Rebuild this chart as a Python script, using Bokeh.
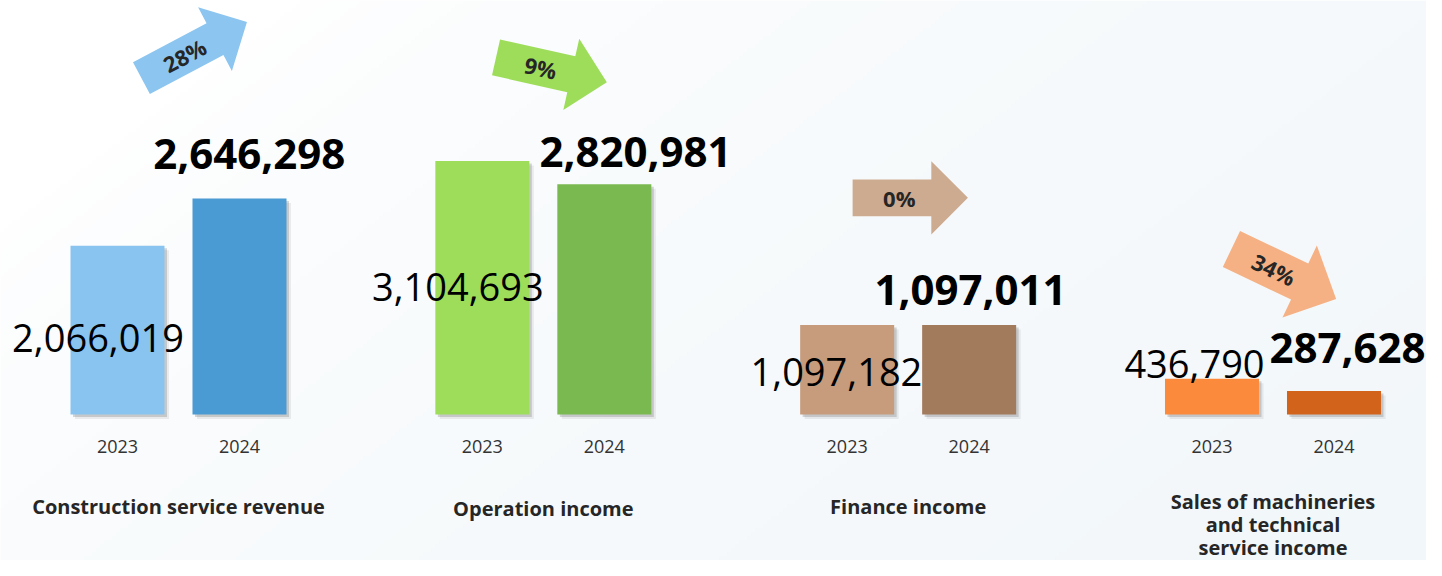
import numpy as np
from bokeh.plotting import figure
from bokeh.models import Range1d, ColumnDataSource
from bokeh.core.properties import value
from bokeh.embed import file_html
from bokeh.resources import INLINE

# ---------------- data ----------------
categories = ["Construction service revenue", "Operation income", "Finance income",
              "Sales of machineries\nand technical\nservice income"]
years = ["2023", "2024"]
values_2023 = [2066019, 3104693, 1097182, 436790]
values_2024 = [2646298, 2820981, 1097011, 287628]
change_labels = ["28%", "9%", "0%", "34%"]

# ---------------- style ----------------
colors_2023 = ["#89c4f0", "#9edd5a", "#c69c7c", "#fb8a3c"]
colors_2024 = ["#4a9ad4", "#7ab850", "#a27a5c", "#d2631b"]
arrow_colors = ["#8bc5f0", "#9edd5a", "#cdab91", "#f5b184"]
FONT = "Open Sans"

W, H = 1426, 560
GROUP_PX = 364.83      # pixels between group centres
X0_PX = 178.0          # first group centre, px from left
BASE_PX = 146.0        # baseline, px from bottom
Y_PER_PX = 12250.0     # value units per pixel

BAR_OFF_PX = 61.0
BAR_W_PX = 94.0

# label offsets in px (text centres)
lab23_off = [(-19.5, 8.3), (-24.5, -0.6), (-10.7, 2.5), (-17.5, -32.2)]   # dy down from bar middle
lab24_off = [(9.8, 44.0), (31.2, 32.7), (1.3, 34.9), (13.5, 43.0)]       # dy up from bar top
YEAR_CENTER_PX = 31.7
CAT_FIRST_PX = [91.5, 94.0, 92.0, 86.5]
CAT_LINE_PX = 23.0

# arrows: centre offset (dx from group centre, dy up from 2024 bar top), angle, length, shaft, head len, head width
arrow_off = [(15.7, 148.3), (8.1, 114.4), (2.1, 127.1), (10.8, 117.1)]
arrow_angle = [28.0, -12.6, 0.0, -25.5]
arrow_len = [119.5, 113.5, 115.3, 116.0]
arrow_shaft = [36.0, 36.7, 36.7, 40.0]
arrow_head_len = [36.2, 36.4, 36.6, 40.4]
arrow_head_w = [72.0, 73.0, 73.3, 79.8]
ARROW_TEXT_U = -11.0


def dx(px):
    return px / GROUP_PX


def dy(px):
    return px * Y_PER_PX


x0, x1 = -X0_PX / GROUP_PX, (W - X0_PX) / GROUP_PX
y0, y1 = -BASE_PX * Y_PER_PX, (H - BASE_PX) * Y_PER_PX

p = figure(width=W, height=H, x_range=Range1d(x0, x1), y_range=Range1d(y0, y1),
           output_backend="svg", toolbar_location=None,
           x_axis_type=None, y_axis_type=None, min_border=0)
p.grid.visible = False
p.outline_line_color = None
p.background_fill_color = "#ffffff"
p.border_fill_color = "#ffffff"

# background gradient
ny, nx = 140, 357
yy, xx = np.mgrid[0:ny, 0:nx]
fx = xx / (nx - 1) * W
fy = yy / (ny - 1) * H
t = np.clip((fx + 1.3 * fy - 300.0) / (W + 1.3 * H - 300.0), 0, 1) ** 0.6
c0 = np.array([255, 255, 255], dtype=float)
c1 = np.array([242, 247, 250], dtype=float)
img = np.zeros((ny, nx, 4), dtype=np.uint8)
for k in range(3):
    img[:, :, k] = (c0[k] + (c1[k] - c0[k]) * t).astype(np.uint8)
img[:, :, 3] = 255
img = img[::-1]
p.image_rgba(image=[img.view(np.uint32).reshape(ny, nx)], x=x0, y=y0, dw=x1 - x0, dh=y1 - y0)

n = len(categories)
gx = np.arange(n, dtype=float)
x23 = gx - dx(BAR_OFF_PX)
x24 = gx + dx(BAR_OFF_PX)
bx = list(x23) + list(x24)
btop = values_2023 + values_2024
bcol = colors_2023 + colors_2024

# shadows
for off, alpha in [(4.5, 0.12), (2.5, 0.28)]:
    p.vbar(x=[v + dx(off) for v in bx], top=[v - dy(off) for v in btop], bottom=-dy(off),
           width=dx(BAR_W_PX), fill_color="#707070", fill_alpha=alpha, line_color=None)

bars = ColumnDataSource(dict(x=bx, top=btop, color=bcol))
p.vbar(x="x", top="top", bottom=0, width=dx(BAR_W_PX), fill_color="color", line_color=None, source=bars)

# value labels
fmt = lambda v: f"{v:,}"
l23 = ColumnDataSource(dict(
    x=[x23[i] + dx(lab23_off[i][0]) for i in range(n)],
    y=[values_2023[i] / 2 - dy(lab23_off[i][1]) for i in range(n)],
    text=[fmt(v) for v in values_2023]))
p.text(x="x", y="y", text="text", source=l23, text_font=value(FONT), text_font_size="38px",
       text_align="center", text_baseline="middle", text_color="#000000")

l24 = ColumnDataSource(dict(
    x=[x24[i] + dx(lab24_off[i][0]) for i in range(n)],
    y=[values_2024[i] + dy(lab24_off[i][1]) for i in range(n)],
    text=[fmt(v) for v in values_2024]))
p.text(x="x", y="y", text="text", source=l24, text_font=value(FONT), text_font_size="42px",
       text_font_style="bold", text_align="center", text_baseline="middle", text_color="#000000")

# year labels
yl = ColumnDataSource(dict(x=bx, y=[-dy(YEAR_CENTER_PX)] * (2 * n),
                           text=[years[0]] * n + [years[1]] * n))
p.text(x="x", y="y", text="text", source=yl, text_font=value(FONT), text_font_size="18px",
       text_align="center", text_baseline="middle", text_color="#333333")

# category labels
cx, cy, ct = [], [], []
for i, c in enumerate(categories):
    for j, line in enumerate(c.split("\n")):
        cx.append(gx[i])
        cy.append(-dy(CAT_FIRST_PX[i] + j * CAT_LINE_PX))
        ct.append(line)
p.text(x="x", y="y", text="text", source=ColumnDataSource(dict(x=cx, y=cy, text=ct)),
       text_font=value(FONT), text_font_size="20px", text_font_style="bold",
       text_align="center", text_baseline="middle", text_color="#262626")

# arrows
axs, ays, tx, ty, tang = [], [], [], [], []
for i in range(n):
    th = np.deg2rad(arrow_angle[i])
    cxp = gx[i] + dx(arrow_off[i][0])
    cyp = values_2024[i] + dy(arrow_off[i][1])
    L, w, hl, hw = arrow_len[i], arrow_shaft[i], arrow_head_len[i], arrow_head_w[i]
    uh = L / 2 - hl
    pts = [(-L / 2, w / 2), (uh, w / 2), (uh, hw / 2), (L / 2, 0), (uh, -hw / 2), (uh, -w / 2), (-L / 2, -w / 2)]
    xs_, ys_ = [], []
    for u, v in pts:
        px_ = u * np.cos(th) - v * np.sin(th)
        py_ = u * np.sin(th) + v * np.cos(th)
        xs_.append(cxp + dx(px_))
        ys_.append(cyp + dy(py_))
    axs.append(xs_)
    ays.append(ys_)
    tx.append(cxp + dx(ARROW_TEXT_U * np.cos(th)))
    ty.append(cyp + dy(ARROW_TEXT_U * np.sin(th)))
    tang.append(th)

p.patches(xs="xs", ys="ys", source=ColumnDataSource(dict(xs=axs, ys=ays, color=arrow_colors)),
          fill_color="color", line_color=None)
p.text(x="x", y="y", text="text", angle="angle",
       source=ColumnDataSource(dict(x=tx, y=ty, text=change_labels, angle=tang)),
       text_font=value(FONT), text_font_size="22px", text_font_style="bold",
       text_align="center", text_baseline="middle", text_color="#262626")

open("out.html", "w").write(file_html(p, INLINE))
